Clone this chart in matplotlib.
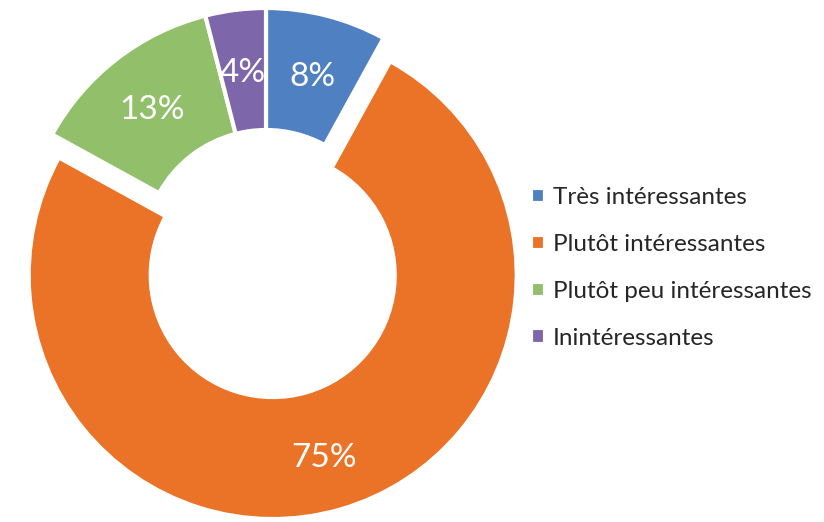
import matplotlib.pyplot as plt

labels = ['Très intéressantes', 'Plutôt intéressantes',
          'Plutôt peu intéressantes', 'Inintéressantes']
values = [8, 75, 13, 4]
colors = ['#4F81C2', '#EA7328', '#92BF69', '#7E66AA']
explode = [0, 24, 0, 0]   # in pixels, the axes below use pixel units

plt.rcParams['font.family'] = ['Lato', 'DejaVu Sans']

fig = plt.figure(figsize=(8.24, 5.22), dpi=100)
ax = fig.add_axes([0, 0, 1, 1])

# pie drawn in pixel units so it lands where the reference has it
wedges, texts, autotexts = ax.pie(
    values, colors=colors, explode=explode, startangle=90, counterclock=False,
    center=(266, 270), radius=244, autopct='%1.0f%%', pctdistance=0.76,
    wedgeprops=dict(width=122, edgecolor='white', linewidth=3),
    textprops=dict(color='white', fontsize=24))

# matplotlib centres on a box that includes the descent; nudge down a bit
for t in autotexts:
    x, y = t.get_position()
    t.set_position((x, y - 5))

ax.set_xlim(0, 824)
ax.set_ylim(0, 522)
ax.set_aspect('equal')
ax.axis('off')

leg = ax.legend(wedges, labels, loc='center left',
                bbox_to_anchor=(531 / 824, (522 - 268) / 522), frameon=False,
                fontsize=17.5, handlelength=0.59, handleheight=0.59,
                handletextpad=0.3, labelspacing=1.06, borderpad=0,
                borderaxespad=0)
for t in leg.get_texts():
    t.set_color('#262626')

fig.savefig('out.png', dpi=100)
